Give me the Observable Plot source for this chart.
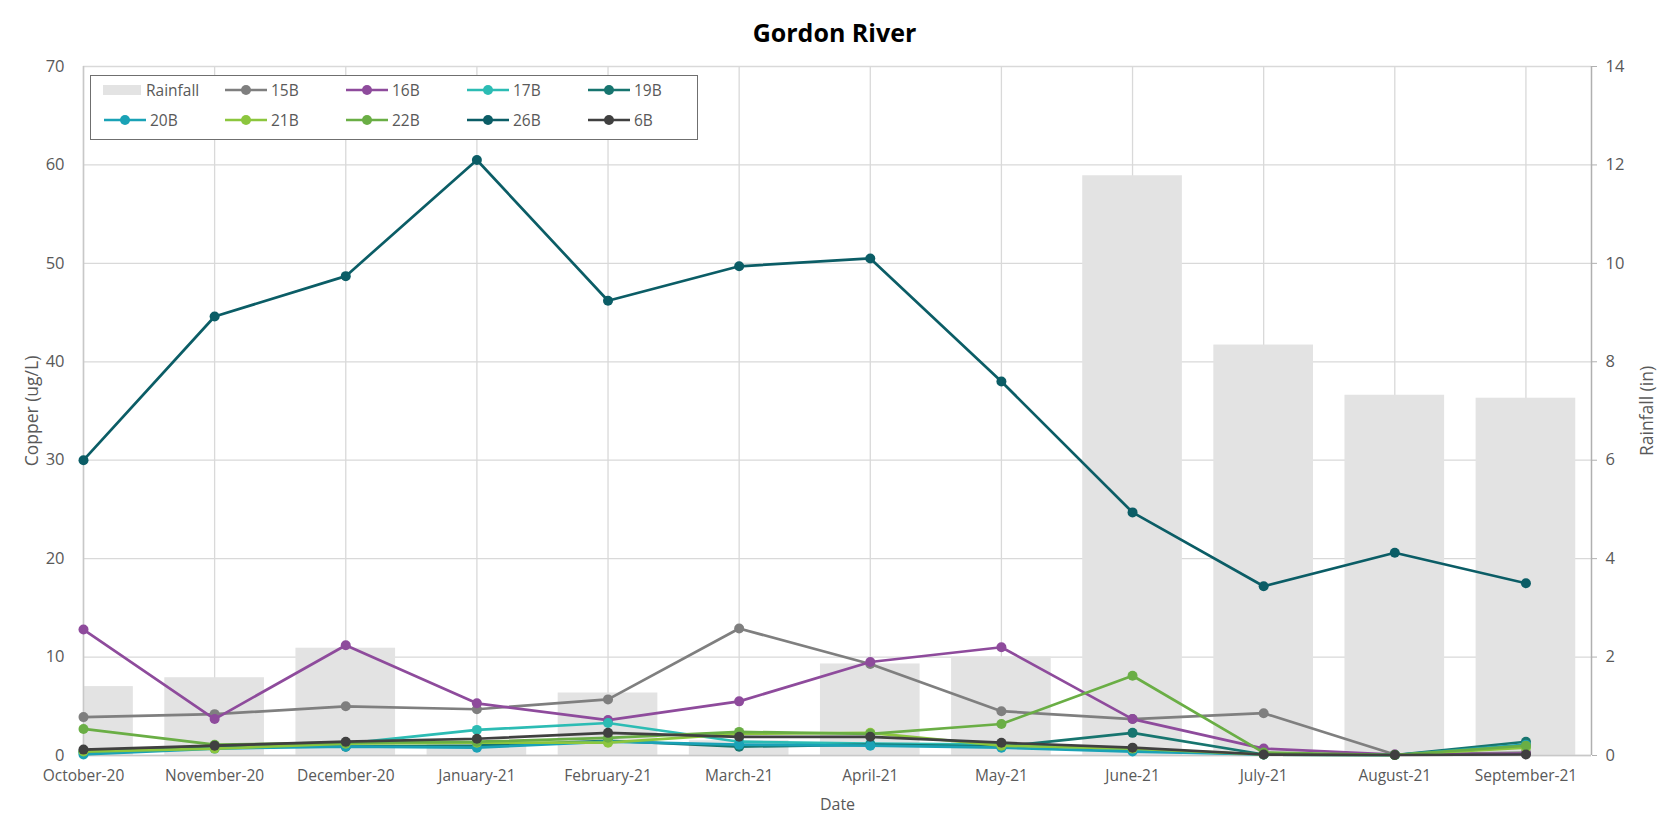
<!DOCTYPE html>
<html>
<head>
<meta charset="utf-8">
<script src="https://cdn.jsdelivr.net/npm/d3@7"></script>
<script src="https://cdn.jsdelivr.net/npm/@observablehq/plot@0.6"></script>
<style>
  html, body { margin: 0; padding: 0; background: #fff; }
  #wrap { position: relative; width: 1669px; height: 824px; font-family: 'Open Sans', sans-serif; }
  #title { height: 50px; text-align: center; font-weight: 700; font-size: 25px; color: #000; line-height: 64px; }
  #legend { position: absolute; left: 90px; top: 75px; width: 608px; height: 65px; border: 1.5px solid #6f6f6f; background: #fff; box-sizing: border-box; }
  .li { position: absolute; display: flex; align-items: center; font-size: 15.5px; color: #595959; }
  .li svg { display: block; margin-right: 3px; }
</style>
</head>
<body>
<div id="wrap">
  <div id="title">Gordon River</div>
  <div id="chart"></div>
  <div id="legend"></div>
</div>
<script>
const months = ["October-20","November-20","December-20","January-21","February-21","March-21","April-21","May-21","June-21","July-21","August-21","September-21"];
const rainfall = [1.40, 1.58, 2.18, 0.22, 1.27, 0.30, 1.86, 2.00, 11.78, 8.34, 7.32, 7.26];

const s15B = [3.9, 4.2, 5.0, 4.7, 5.7, 12.9, 9.3, 4.5, 3.7, 4.3, 0.1, 0.3];
const s16B = [12.8, 3.7, 11.2, 5.3, 3.6, 5.5, 9.5, 11.0, 3.7, 0.7, 0.1, 0.2];
const s17B = [0.3, 0.8, 1.2, 2.6, 3.3, 1.4, 1.2, 1.1, 0.6, 0.1, 0.05, 0.9];
const s19B = [0.4, 0.9, 0.9, 1.0, 1.5, 0.9, 1.1, 0.9, 2.3, 0.1, 0.05, 1.4];
const s20B = [0.1, 0.7, 0.9, 0.8, 1.4, 1.1, 1.0, 0.8, 0.4, 0.1, 0.05, 1.1];
const s21B = [0.4, 0.7, 1.2, 1.3, 1.3, 2.2, 2.3, 1.0, 0.7, 0.1, 0.05, 0.8];
const s22B = [2.7, 1.1, 1.3, 1.4, 1.8, 2.4, 2.2, 3.2, 8.1, 0.3, 0.05, 1.0];
const s26B = [30.0, 44.6, 48.7, 60.5, 46.2, 49.7, 50.5, 38.0, 24.7, 17.2, 20.6, 17.5];
const s6B  = [0.6, 1.0, 1.4, 1.7, 2.3, 1.9, 1.9, 1.3, 0.8, 0.1, 0.05, 0.1];

const seriesNames = ["15B","16B","17B","19B","20B","21B","22B","26B","6B"];
const seriesValues = [s15B, s16B, s17B, s19B, s20B, s21B, s22B, s26B, s6B];
const seriesColors = ["#7f7f7f","#8e4b9c","#2cbcb4","#17756f","#1aa2b6","#8cc63e","#6aae45","#0b5d66","#404040"];

const copperTicks = [0,10,20,30,40,50,60,70];
const RAIN_FACTOR = 5; // 14 in on the right axis ↔ 70 ug/L on the left
const barHalf = 0.38;

const rainData = rainfall.map((r, i) => ({i, r}));
const seriesMarks = seriesNames.flatMap((name, k) => {
  const pts = seriesValues[k].map((v, i) => ({name, i, v}));
  return [
    Plot.line(pts, {x: "i", y: "v", stroke: "name", strokeWidth: 2.7}),
    Plot.dot(pts, {x: "i", y: "v", fill: "name", r: 5})
  ];
});

const chart = Plot.plot({
  width: 1669,
  height: 774,
  marginTop: 16,
  marginBottom: 69,
  marginLeft: 83,
  marginRight: 78,
  style: {fontFamily: "'Open Sans', sans-serif", fontSize: "15.5px", color: "#595959", background: "#fff"},
  x: {type: "linear", domain: [0, months.length - 0.5], axis: null},
  y: {domain: [0, 70], axis: null},
  color: {domain: seriesNames, range: seriesColors},
  marks: [
    Plot.ruleY(copperTicks, {stroke: "#d9d9d9", strokeWidth: 1.3}),
    Plot.ruleX(d3.range(months.length), {stroke: "#d9d9d9", strokeWidth: 1.3}),
    Plot.rectY(rainData, {x1: d => d.i - barHalf, x2: d => d.i + barHalf, y1: 0, y2: d => d.r * RAIN_FACTOR, fill: "#e3e3e3", clip: true}),
    Plot.ruleX([0], {stroke: "#c8c8c8", strokeWidth: 1.5}),
    Plot.ruleX([months.length - 0.5], {stroke: "#b0b0b0", strokeWidth: 1.5}),
    Plot.ruleY([0], {stroke: "#c8c8c8", strokeWidth: 1.5}),
    Plot.axisX(d3.range(months.length), {tickFormat: i => months[i], tickSize: 0, tickPadding: 14, label: null, fontSize: 15.5}),
    Plot.axisY(copperTicks, {anchor: "left", tickSize: 0, tickPadding: 19, label: null, fontSize: 16.5}),
    Plot.axisY(copperTicks, {anchor: "right", tickSize: 5, tickPadding: 9, stroke: "#b0b0b0", tickFormat: d => d / RAIN_FACTOR, label: null, fontSize: 16.5}),
    Plot.text(["Date"], {frameAnchor: "bottom", dy: 54, fontSize: 16, fill: "#595959"}),
    Plot.text(["Copper (ug/L)"], {frameAnchor: "left", textAnchor: "middle", dx: -51, rotate: -90, fontSize: 17.5, fill: "#595959"}),
    Plot.text(["Rainfall (in)"], {frameAnchor: "right", textAnchor: "middle", dx: 56, rotate: -90, fontSize: 17.5, fill: "#595959"}),
    ...seriesMarks
  ]
});
document.getElementById("chart").appendChild(chart);

// Legend
const legend = document.getElementById("legend");
const legendItems = [{name: "Rainfall", bar: true}, ...seriesNames.map((n, k) => ({name: n, color: seriesColors[k]}))];
legendItems.forEach((it, idx) => {
  const col = idx % 5, row = Math.floor(idx / 5);
  const el = document.createElement("div");
  el.className = "li";
  el.style.left = (12 + col * 121) + "px";
  el.style.top = (2 + row * 30) + "px";
  el.style.height = "24px";
  const sw = it.bar
    ? `<svg width="40" height="14"><rect x="0" y="2" width="38" height="10" fill="#e3e3e3"/></svg>`
    : `<svg width="44" height="14"><line x1="1" y1="7" x2="43" y2="7" stroke="${it.color}" stroke-width="2.7"/><circle cx="22" cy="7" r="5" fill="${it.color}"/></svg>`;
  el.innerHTML = sw + `<span>${it.name}</span>`;
  legend.appendChild(el);
});
</script>
</body>
</html>
